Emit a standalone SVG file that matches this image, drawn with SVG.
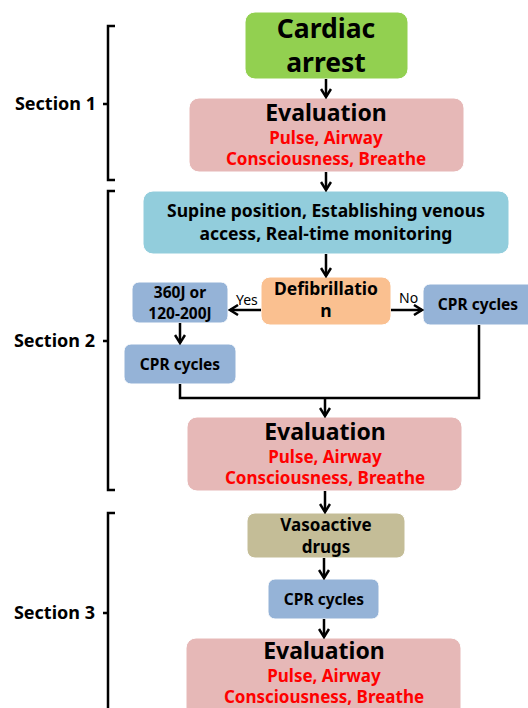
<svg xmlns="http://www.w3.org/2000/svg" width="528" height="708" viewBox="0 0 528 708">
<defs>
<style>
text{font-family:"Noto Sans","Open Sans","DejaVu Sans",sans-serif;font-weight:bold;text-anchor:middle;fill:#000}
.r{fill:#FF0000;font-size:17px}
.ev{font-size:23px}
.box{stroke:#fff;stroke-width:1}
.ln{fill:none;stroke:#000;stroke-width:2.5}
.sec{font-size:18px;text-anchor:end}
.sm{font-size:15.5px}
.lbl{font-weight:normal;font-size:14px;text-anchor:start}
</style>
<marker id="ah" viewBox="0 0 12 12" refX="10" refY="6" markerWidth="12" markerHeight="12" markerUnits="userSpaceOnUse" orient="auto">
<polyline points="2,1 10,6 2,11" fill="none" stroke="#000" stroke-width="2.5"/>
</marker>
</defs>
<rect width="528" height="708" fill="#fff"/>

<g id="brackets">
<path class="ln" d="M115,26 H108 V180 H115 M103,104 H108"/>
<path class="ln" d="M115,191 H108 V490 H115 M103,341 H108"/>
<path class="ln" d="M115,513 H108 V710 M103,613 H108"/>
<text class="sec" x="96" y="110">Section 1</text>
<text class="sec" x="95" y="347">Section 2</text>
<text class="sec" x="95" y="619">Section 3</text>
</g>

<g id="cardiac">
<rect class="box" x="245" y="12" width="163" height="67" rx="10" fill="#92D050"/>
<text x="326" y="38" font-size="26.5">Cardiac</text>
<text x="326" y="72" font-size="26.5">arrest</text>
</g>

<g id="eval1">
<rect class="box" x="189" y="98" width="275" height="74" rx="10" fill="#E6B8B7"/>
<text class="ev" x="326" y="121">Evaluation</text>
<text class="r" x="326" y="144">Pulse, Airway</text>
<text class="r" x="326" y="165">Consciousness, Breathe</text>
</g>

<g id="supine">
<rect class="box" x="143" y="191" width="366" height="63" rx="10" fill="#92CDDC"/>
<text x="326" y="217" font-size="17.5">Supine position, Establishing venous</text>
<text x="326" y="240" font-size="17.5">access, Real-time monitoring</text>
</g>

<g id="defib">
<rect class="box" x="261" y="277" width="130" height="48" rx="9" fill="#FAC090"/>
<text x="326" y="295" font-size="17.5">Defibrillatio</text>
<text x="326" y="317" font-size="17.5">n</text>
</g>

<g id="joules">
<rect class="box" x="132" y="282" width="96" height="41" rx="7" fill="#95B3D7"/>
<text class="sm" x="180" y="298">360J or</text>
<text class="sm" x="180" y="319">120-200J</text>
</g>

<g id="cpr-right">
<rect class="box" x="423" y="284" width="115" height="41" rx="7" fill="#95B3D7"/>
<text class="sm" x="478" y="310">CPR cycles</text>
</g>

<g id="cpr-left">
<rect class="box" x="124" y="344" width="112" height="40" rx="7" fill="#95B3D7"/>
<text class="sm" x="180" y="370">CPR cycles</text>
</g>

<g id="eval2">
<rect class="box" x="187" y="417" width="275" height="74" rx="10" fill="#E6B8B7"/>
<text class="ev" x="325" y="440">Evaluation</text>
<text class="r" x="325" y="463">Pulse, Airway</text>
<text class="r" x="325" y="484">Consciousness, Breathe</text>
</g>

<g id="vaso">
<rect class="box" x="247" y="513" width="158" height="45" rx="8" fill="#C4BD97"/>
<text x="326" y="531" font-size="17">Vasoactive</text>
<text x="326" y="553" font-size="17">drugs</text>
</g>

<g id="cpr3">
<rect class="box" x="268" y="579" width="111" height="40" rx="7" fill="#95B3D7"/>
<text class="sm" x="324" y="605">CPR cycles</text>
</g>

<g id="eval3">
<rect class="box" x="186" y="638" width="275" height="80" rx="10" fill="#E6B8B7"/>
<text class="ev" x="324" y="659">Evaluation</text>
<text class="r" x="324" y="682">Pulse, Airway</text>
<text class="r" x="324" y="703">Consciousness, Breathe</text>
</g>

<g id="connectors">
<line class="ln" x1="326" y1="79" x2="326" y2="97" marker-end="url(#ah)"/>
<line class="ln" x1="326" y1="172" x2="326" y2="190" marker-end="url(#ah)"/>
<line class="ln" x1="326" y1="254" x2="326" y2="276" marker-end="url(#ah)"/>
<line class="ln" x1="261" y1="310" x2="230" y2="310" marker-end="url(#ah)"/>
<line class="ln" x1="391" y1="310" x2="422" y2="310" marker-end="url(#ah)"/>
<line class="ln" x1="180" y1="323" x2="180" y2="343" marker-end="url(#ah)"/>
<polyline class="ln" points="180,384 180,398 479,398 479,325"/>
<line class="ln" x1="325" y1="398" x2="325" y2="416" marker-end="url(#ah)"/>
<line class="ln" x1="325" y1="491" x2="325" y2="512" marker-end="url(#ah)"/>
<line class="ln" x1="324" y1="558" x2="324" y2="578" marker-end="url(#ah)"/>
<line class="ln" x1="324" y1="619" x2="324" y2="637" marker-end="url(#ah)"/>
<text class="lbl" x="236" y="305">Yes</text>
<text class="lbl" x="399" y="303">No</text>
</g>
</svg>
